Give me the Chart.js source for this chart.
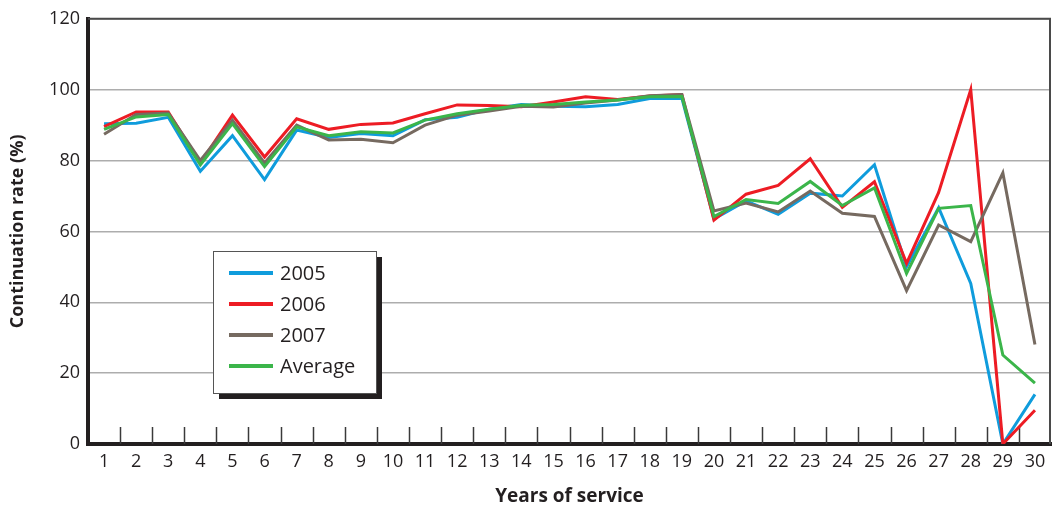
<!DOCTYPE html>
<html>
<head>
<meta charset="utf-8">
<script src="https://cdn.jsdelivr.net/npm/chart.js@4/dist/chart.umd.min.js"></script>
<style>
  html, body { margin: 0; padding: 0; background: #ffffff; }
  #wrap { width: 1053px; height: 510px; position: relative; }
</style>
</head>
<body>
<div id="wrap"><canvas id="c" width="1053" height="510"></canvas></div>
<script>
const years = ['1','2','3','4','5','6','7','8','9','10','11','12','13','14','15','16','17','18','19','20','21','22','23','24','25','26','27','28','29','30'];
const yTicks = [0, 20, 40, 60, 80, 100, 120];
const seriesNames = ['2005', '2006', '2007', 'Average'];
const rate2005 = [90.4, 90.5, 92.2, 77.0, 87.0, 74.6, 88.6, 86.5, 87.6, 87.0, 91.5, 92.2, 94.5, 95.8, 95.3, 95.2, 95.8, 97.5, 97.6, 63.5, 68.6, 64.8, 70.8, 70.0, 78.8, 50.0, 66.7, 45.3, 0, 14.0];
const rate2006 = [89.6, 93.7, 93.7, 79.3, 92.8, 81.0, 91.8, 88.8, 90.2, 90.6, 93.2, 95.7, 95.5, 95.2, 96.5, 98.0, 97.2, 98.2, 98.6, 63.2, 70.5, 73.0, 80.5, 66.8, 74.0, 51.0, 71.0, 100, 0, 9.5];
const rate2007 = [87.4, 93.0, 93.4, 80.0, 91.4, 79.3, 90.0, 85.8, 86.0, 85.0, 90.0, 92.8, 94.0, 95.3, 95.1, 96.2, 97.1, 98.3, 98.6, 65.8, 68.0, 65.5, 71.4, 65.1, 64.2, 43.3, 61.8, 57.1, 76.5, 28.1];
const rateAvg  = [88.8, 92.3, 93.0, 78.8, 90.4, 78.3, 89.5, 87.0, 88.1, 87.8, 91.4, 93.2, 94.5, 95.6, 95.8, 96.5, 97.1, 98.0, 98.1, 64.2, 69.0, 67.9, 74.1, 67.3, 72.3, 48.1, 66.5, 67.3, 25.1, 17.2];

const colors = ['#0f9cdc', '#ed1c24', '#766a60', '#3bb54a'];
const FONT = '"Open Sans", "Noto Sans", sans-serif';
const TEXT = '#231f20';

const frame = {
  id: 'frame',
  beforeDatasetsDraw(chart) {
    const {ctx, chartArea} = chart;
    const x = chart.scales.x;
    ctx.save();
    ctx.strokeStyle = '#3a3a3a';
    ctx.lineWidth = 1.5;
    for (let i = 0; i < years.length - 1; i++) {
      const px = Math.round((x.getPixelForValue(i) + x.getPixelForValue(i + 1)) / 2) + 0.5;
      ctx.beginPath();
      ctx.moveTo(px, chartArea.bottom - 17);
      ctx.lineTo(px, chartArea.bottom);
      ctx.stroke();
    }
    ctx.restore();
  },
  afterDraw(chart) {
    const {ctx, chartArea} = chart;
    ctx.save();
    ctx.strokeStyle = '#4a4a4a';
    ctx.lineWidth = 2;
    ctx.beginPath();
    ctx.moveTo(chartArea.left, chartArea.top);
    ctx.lineTo(chartArea.right - 1, chartArea.top);
    ctx.lineTo(chartArea.right - 1, chartArea.bottom);
    ctx.stroke();

    // legend box
    const bx = 213, by = 251, bw = 163, bh = 142;
    ctx.fillStyle = '#231f20';
    ctx.fillRect(bx + 6, by + 6, bw, bh);
    ctx.fillStyle = '#ffffff';
    ctx.fillRect(bx, by, bw, bh);
    ctx.strokeStyle = '#555555';
    ctx.lineWidth = 1;
    ctx.strokeRect(bx + 0.5, by + 0.5, bw, bh);
    ctx.font = '20px ' + FONT;
    ctx.textBaseline = 'middle';
    ctx.textAlign = 'left';
    chart.data.datasets.forEach((ds, i) => {
      const y = 273 + i * 31;
      ctx.strokeStyle = ds.borderColor;
      ctx.lineWidth = 4;
      ctx.beginPath();
      ctx.moveTo(229, y);
      ctx.lineTo(273, y);
      ctx.stroke();
      ctx.fillStyle = TEXT;
      ctx.fillText(ds.label, 280, y + 1);
    });
    ctx.restore();
  }
};

const seriesData = [rate2005, rate2006, rate2007, rateAvg];
const drawOrder = [3, 2, 1, 0];

new Chart(document.getElementById('c'), {
  type: 'line',
  data: {
    labels: years,
    datasets: seriesNames.map((name, i) => ({
      label: name,
      data: seriesData[i],
      borderColor: colors[i],
      backgroundColor: colors[i],
      borderWidth: 3,
      pointRadius: 0,
      tension: 0,
      fill: false,
      order: drawOrder[i]
    }))
  },
  options: {
    responsive: false,
    animation: false,
    devicePixelRatio: 1,
    layout: { padding: { top: 15, right: 2, left: 0, bottom: 0 } },
    plugins: { legend: { display: false }, tooltip: { enabled: false } },
    scales: {
      x: {
        type: 'category',
        offset: true,
        grid: { display: false, drawTicks: false },
        border: { display: true, color: '#231f20', width: 4 },
        ticks: { color: TEXT, font: { family: FONT, size: 18 }, padding: 7, maxRotation: 0, autoSkip: false },
        title: { display: true, text: 'Years of service', color: TEXT, font: { family: FONT, size: 19, weight: 'bold' }, padding: { top: 4, bottom: 2 } },
        afterFit(scale) { scale.height = 66; }
      },
      y: {
        min: 0,
        max: 120,
        afterBuildTicks(scale) { scale.ticks = yTicks.map(v => ({ value: v })); },
        grid: { color: '#adadad', lineWidth: 1.5, drawTicks: false },
        border: { display: true, color: '#231f20', width: 4 },
        ticks: { color: TEXT, font: { family: FONT, size: 18 }, padding: 8 },
        title: { display: true, text: 'Continuation rate (%)', color: TEXT, font: { family: FONT, size: 18, weight: 'bold' }, padding: { top: 7, bottom: 0 } },
        afterFit(scale) { scale.width = 88; }
      }
    }
  },
  plugins: [frame]
});
</script>
</body>
</html>
